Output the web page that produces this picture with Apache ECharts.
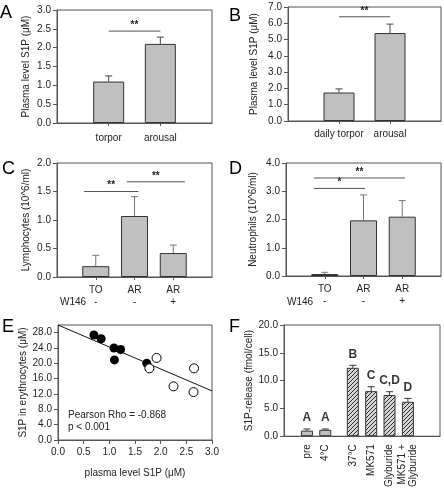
<!DOCTYPE html>
<html><head><meta charset="utf-8">
<script src="https://cdn.jsdelivr.net/npm/echarts@6/dist/echarts.min.js"></script>
<style>html,body{margin:0;padding:0;background:#fff}#c{width:444px;height:490px}</style>
</head><body><div id="c"></div>
<script>
// ---------- DATA ----------
// Panel A
const catA = ['torpor', 'arousal'];
const valA = [1.1, 2.1];
const errA = [0.15, 0.18];
const sigA = [[1, 2, 2.44, '**']];
// Panel B
const catB = ['daily torpor', 'arousal'];
const valB = [1.75, 5.4];
const errB = [0.22, 0.55];
const sigB = [[1, 2, 6.4, '**']];
// Panel C
const catC = ['TO', 'AR', 'AR'];
const w146C = ['-', '-', '+'];
const valC = [0.19, 1.07, 0.42];
const errC = [0.19, 0.34, 0.14];
const sigC = [[0.7, 2.1, 1.5, '**'], [1.8, 3.3, 1.67, '**']];
// Panel D
const catD = ['TO', 'AR', 'AR'];
const w146D = ['-', '-', '+'];
const valD = [0.07, 1.97, 2.1];
const errD = [0.06, 0.9, 0.57];
const sigD = [[0.72, 2.04, 3.1, '*'], [0.72, 3.07, 3.47, '**']];
// Panel E
const filledX = [0.70, 0.84, 1.09, 1.22, 1.10, 1.73];
const filledY = [27.4, 26.4, 24.0, 23.6, 20.9, 20.0];
const openX = [1.78, 1.92, 2.25, 2.64, 2.65];
const openY = [18.7, 21.4, 14.0, 12.5, 18.7];
const fitX = [0, 3];
const fitY = [30, 12.8];
// Panel F
const catF = ['pre', '4°C', '37°C', 'MK571', 'Glyburide', 'MK571 +\nGlyburide'];
const groupF = [0, 0, 1, 1, 1, 1];
const valF = [1.0, 1.15, 12.3, 8.1, 7.4, 6.2];
const errF = [0.3, 0.15, 0.45, 0.8, 0.6, 0.6];
const letterF = ['A', 'A', 'B', 'C', 'C,D', 'D'];

// ---------- STYLE / LAYOUT ----------
const FONT = '"Liberation Sans", Arial, sans-serif';
const AX = '#555', TXT = '#222', BARC = '#c0c0c0', BORD = '#333';
const chart = echarts.init(document.getElementById('c'), null, {renderer: 'canvas', width: 444, height: 490});

const grids = [
  {left: 57, top: 10, width: 155, height: 113},
  {left: 288, top: 7, width: 153, height: 114},
  {left: 57, top: 163, width: 155, height: 114},
  {left: 286, top: 163, width: 155, height: 113},
  {left: 58, top: 325, width: 154, height: 115},
  {left: 284, top: 325, width: 156, height: 116}
].map(g => Object.assign({show: true, borderColor: AX, borderWidth: 1, backgroundColor: 'transparent'}, g));

const lblStyle = {color: TXT, fontFamily: FONT, fontSize: 10};

function yAxis(gi, max, interval, name, gap, extra) {
  return Object.assign({
    type: 'value', gridIndex: gi, min: 0, max: max, interval: interval,
    axisLine: {show: true, lineStyle: {color: AX}},
    axisTick: {show: true, length: 4, lineStyle: {color: AX}},
    splitLine: {show: false},
    axisLabel: Object.assign({margin: 6, formatter: v => v.toFixed(1)}, lblStyle),
    name: name, nameLocation: 'middle', nameRotate: 90, nameGap: gap,
    nameTextStyle: {color: TXT, fontFamily: FONT, fontSize: 10}
  }, extra || {});
}
function xCatAxis(gi, cats, sub, margin) {
  const n = cats.length;
  const ticks = cats.map((c, k) => k + 1);
  return {
    type: 'value', gridIndex: gi, min: 0, max: n + 1, interval: 1,
    axisLine: {show: true, lineStyle: {color: AX}},
    axisTick: {show: true, length: 3, lineStyle: {color: AX}, customValues: ticks},
    splitLine: {show: false},
    axisLabel: Object.assign({
      margin: margin, customValues: ticks, lineHeight: 12,
      formatter: v => { const k = Math.round(v) - 1; return cats[k] === undefined ? '' : (sub ? cats[k] + '\n' + sub[k] : cats[k]); }
    }, lblStyle)
  };
}

const xAxes = [
  xCatAxis(0, catA, null, 9),
  xCatAxis(1, catB, null, 7),
  xCatAxis(2, catC, w146C, 7),
  xCatAxis(3, catD, w146D, 7),
  {
    type: 'value', gridIndex: 4, min: 0, max: 3, interval: 0.5,
    axisLine: {show: true, lineStyle: {color: AX}},
    axisTick: {show: true, length: 4, lineStyle: {color: AX}},
    splitLine: {show: false},
    axisLabel: Object.assign({margin: 7, formatter: v => v.toFixed(1)}, lblStyle),
    name: 'plasma level S1P (μM)', nameLocation: 'middle', nameGap: 28,
    nameTextStyle: {color: TXT, fontFamily: FONT, fontSize: 10}
  }
];
// F: category axis with blank spacer slots
const slotsF = [null, null];
catF.forEach((c, k) => {
  if (k > 0) { const n = groupF[k] !== groupF[k - 1] ? 2 : 1; for (let i = 0; i < n; i++) slotsF.push(null); }
  slotsF.push(k);
});
slotsF.push(null, null, null);
const slotOf = k => slotsF.indexOf(k);
xAxes.push({
  type: 'category', gridIndex: 5, data: slotsF.map(s => s === null ? '' : catF[s]),
  axisLine: {show: true, lineStyle: {color: AX}},
  axisTick: {show: false},
  axisLabel: Object.assign({interval: 0, rotate: 90, margin: 8, lineHeight: 11}, lblStyle)
});

const yAxes = [
  yAxis(0, 3, 0.5, 'Plasma level S1P (μM)', 26),
  yAxis(1, 7, 1, 'Plasma level S1P (μM)', 29),
  yAxis(2, 2, 0.5, 'Lymphocytes (10^6/ml)', 26),
  yAxis(3, 4, 1, 'Neutrophils (10^6/ml)', 28),
  yAxis(4, 30, 4, 'S1P in erythrocytes (μM)', 27, {axisLabel: Object.assign({margin: 6, showMaxLabel: false, formatter: v => v.toFixed(1)}, lblStyle)}),
  yAxis(5, 20, 5, 'S1P-release (fmol/cell)', 28)
];

function errSeries(gi, data, color) {
  return {
    type: 'custom', xAxisIndex: gi, yAxisIndex: gi, data: data, z: 5,
    renderItem: (params, api) => {
      const x = api.value(0), m = api.value(1), e = api.value(2);
      const p1 = api.coord([x, m]), p2 = api.coord([x, m + e]);
      const c = 3.5;
      return {type: 'group', children: [
        {type: 'line', shape: {x1: p1[0], y1: p1[1], x2: p2[0], y2: p2[1]}, style: {stroke: color, lineWidth: 1}},
        {type: 'line', shape: {x1: p2[0] - c, y1: p2[1], x2: p2[0] + c, y2: p2[1]}, style: {stroke: color, lineWidth: 1}}
      ]};
    }
  };
}
function sigSeries(gi, sig, color) {
  return {
    type: 'custom', xAxisIndex: gi, yAxisIndex: gi, data: sig.map(s => [s[0], s[1], s[2]]), z: 5,
    renderItem: (params, api) => {
      const a = api.coord([api.value(0), api.value(2)]), b = api.coord([api.value(1), api.value(2)]);
      return {type: 'group', children: [
        {type: 'line', shape: {x1: a[0], y1: a[1], x2: b[0], y2: b[1]}, style: {stroke: color, lineWidth: 1}},
        {type: 'text', x: (a[0] + b[0]) / 2, y: a[1] - 1, style: {text: sig[params.dataIndex][3], align: 'center', verticalAlign: 'bottom', font: 'bold 10px ' + FONT, fill: TXT}}
      ]};
    }
  };
}
function barSeries(gi, vals, w) {
  return {
    type: 'bar', xAxisIndex: gi, yAxisIndex: gi, barWidth: w,
    data: vals.map((v, k) => [k + 1, v]),
    itemStyle: {color: BARC, borderColor: BORD, borderWidth: 1}
  };
}

const series = [];
[[valA, errA, sigA, 31], [valB, errB, sigB, 31], [valC, errC, sigC, 27], [valD, errD, sigD, 27]].forEach((p, gi) => {
  series.push(barSeries(gi, p[0], p[3]));
  series.push(errSeries(gi, p[0].map((v, k) => [k + 1, v, p[1][k]]), gi < 2 ? '#444' : '#777'));
  series.push(sigSeries(gi, p[2], '#555'));
});
// E
series.push({type: 'line', xAxisIndex: 4, yAxisIndex: 4, data: fitX.map((x, k) => [x, fitY[k]]), symbol: 'none', lineStyle: {color: '#111', width: 1}, z: 2});
series.push({type: 'scatter', xAxisIndex: 4, yAxisIndex: 4, data: filledX.map((x, k) => [x, filledY[k]]), symbolSize: 9, itemStyle: {color: '#000', opacity: 1}, z: 3});
series.push({type: 'scatter', xAxisIndex: 4, yAxisIndex: 4, data: openX.map((x, k) => [x, openY[k]]), symbolSize: 9, itemStyle: {color: '#fff', borderColor: '#000', borderWidth: 1, opacity: 1}, z: 3});
// F
const pc = document.createElement('canvas'); pc.width = 4; pc.height = 4;
const g = pc.getContext('2d');
g.fillStyle = '#d6d6d6'; g.fillRect(0, 0, 4, 4);
g.strokeStyle = '#2a2a2a'; g.lineWidth = 1;
g.beginPath(); g.moveTo(0, 4); g.lineTo(4, 0); g.moveTo(-1, 1); g.lineTo(1, -1); g.moveTo(3, 5); g.lineTo(5, 3); g.stroke();
const hatch = {image: pc, repeat: 'repeat'};
series.push({
  type: 'bar', xAxisIndex: 5, yAxisIndex: 5, barWidth: 12,
  data: slotsF.map(s => s === null ? '-' : {value: valF[s], itemStyle: {color: groupF[s] === 0 ? BARC : hatch}}),
  itemStyle: {borderColor: BORD, borderWidth: 1}
});
series.push(errSeries(5, catF.map((c, k) => [slotOf(k), valF[k], errF[k]]), '#333'));
series.push({
  type: 'scatter', xAxisIndex: 5, yAxisIndex: 5, symbolSize: 0, silent: true,
  data: catF.map((c, k) => [slotOf(k), valF[k] + errF[k]]),
  label: {show: true, position: 'top', distance: 5, formatter: p => letterF[p.dataIndex], color: '#000', fontFamily: FONT, fontSize: 12, fontWeight: 'bold'}
});

const letters = [['A', 0, 4], ['B', 229, 7], ['C', 2, 160], ['D', 229, 160], ['E', 2, 318], ['F', 229, 318]];
const graphic = letters.map(l => ({type: 'text', left: l[1], top: l[2], style: {text: l[0], font: '18px ' + FONT, fill: '#000'}}));
graphic.push({type: 'text', left: 60, top: 297, style: {text: 'W146', font: '10px ' + FONT, fill: TXT}});
graphic.push({type: 'text', left: 287, top: 297, style: {text: 'W146', font: '10px ' + FONT, fill: TXT}});
graphic.push({type: 'text', left: 68, top: 410, style: {text: 'Pearson Rho = -0.868', font: '10px ' + FONT, fill: TXT}});
graphic.push({type: 'text', left: 68, top: 422, style: {text: 'p < 0.001', font: '10px ' + FONT, fill: TXT}});

chart.setOption({
  animation: false, backgroundColor: '#fff',
  grid: grids, xAxis: xAxes, yAxis: yAxes, series: series, graphic: graphic
});
</script></body></html>
